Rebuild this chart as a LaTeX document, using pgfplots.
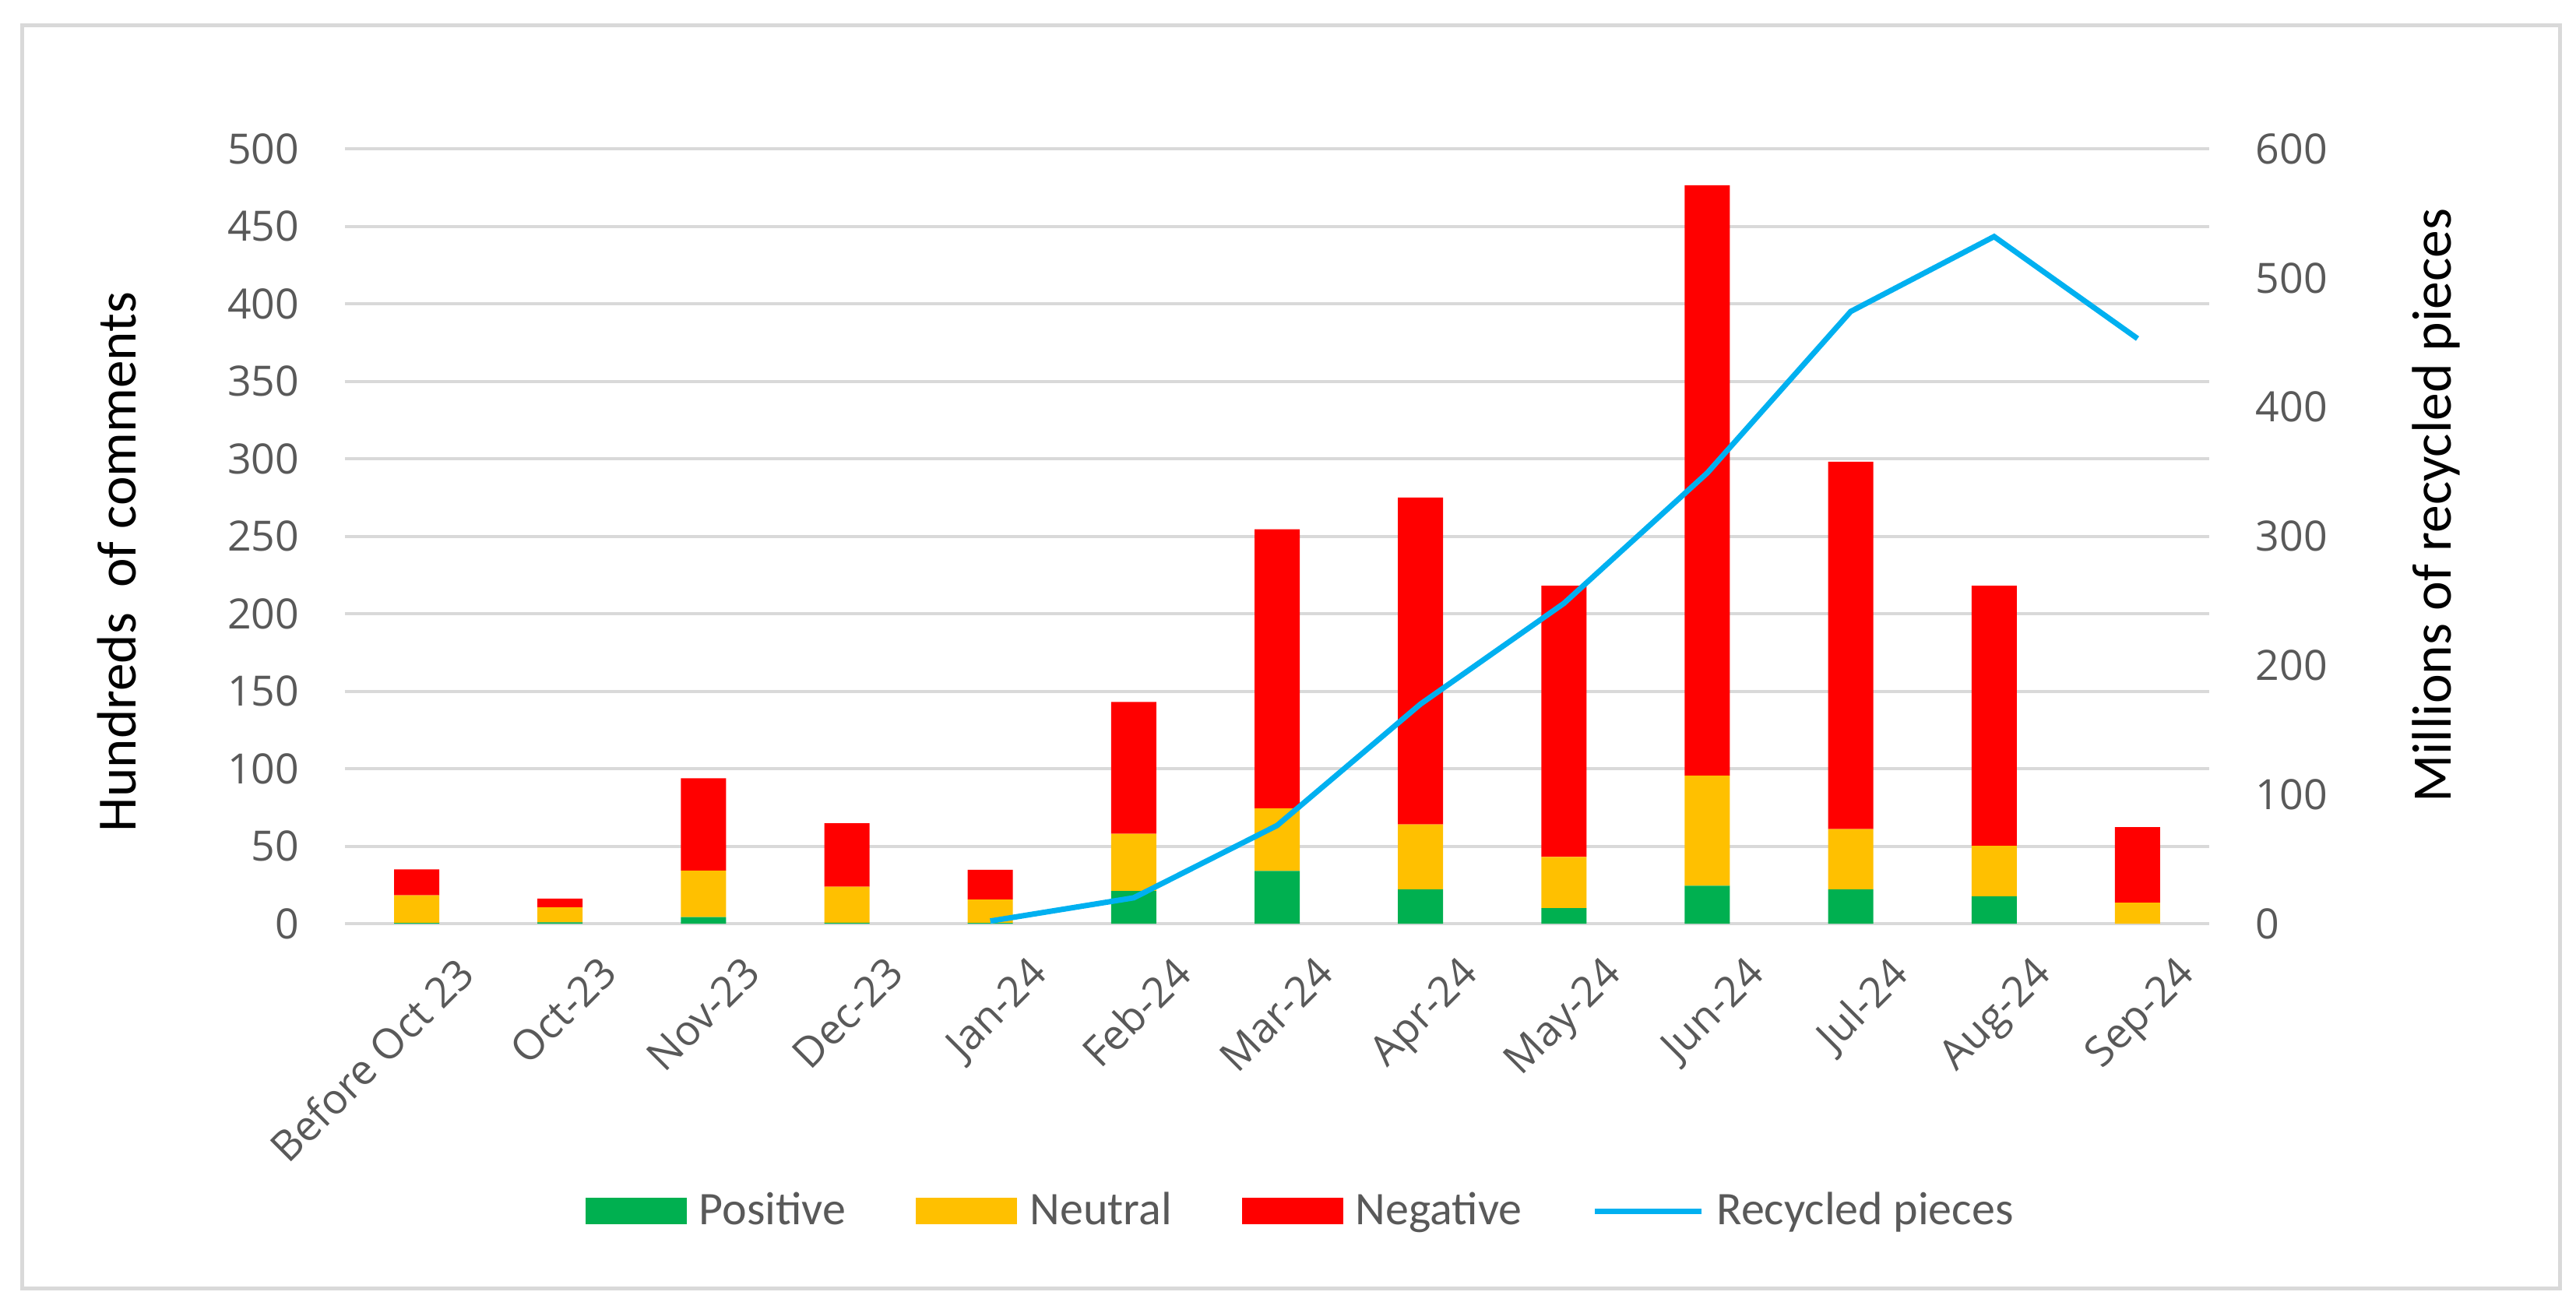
\documentclass[border=0pt]{standalone}
\usepackage{fontspec}
\setmainfont{Carlito}
\newfontfamily\tickfont{Open Sans}
\usepackage{pgfplots}
\usepackage{pgfplotstable}
\pgfplotsset{compat=1.18}

\definecolor{posgreen}{HTML}{00B050}
\definecolor{neuyellow}{HTML}{FFC000}
\definecolor{negred}{HTML}{FF0000}
\definecolor{recblue}{HTML}{00B0F0}
\definecolor{gridgray}{HTML}{D9D9D9}
\definecolor{textgray}{HTML}{595959}

% hundreds of comments, stacked
\pgfplotstableread{
idx pos neu neg
0  0.5  17.8 16.7
1  0.8  9.7  5.7
2  4.2  30.0 59.6
3  0.6  23.2 41.0
4  0.5  15.0 19.3
5  21.0 37.0 85.0
6  34.0 40.5 180.0
7  22.0 42.0 211.0
8  10.0 33.0 175.0
9  24.5 71.0 381.0
10 22.0 39.0 237.0
11 17.7 32.5 167.8
12 0.0  13.5 48.8
}\comments

% millions of recycled pieces
\pgfplotstableread{
idx pieces
4  2
5  20
6  76
7  170
8  248
9  349
10 474
11 532
12 453
}\recycled

\pgfplotsset{
  barlegend/.style={legend image code/.code={\fill[##1, draw=none] (0pt,-4.25pt) rectangle (32.5pt,4.25pt);}},
  linelegend/.style={legend image code/.code={\draw[##1] (0pt,0pt) -- (34.25pt,0pt);}},
  ticktext/.style={font=\tickfont\fontsize{13.4}{16}\selectfont, text=textgray},
}

\begin{document}
\begin{tikzpicture}
\useasboundingbox (-110.75pt,-124.75pt) rectangle (716.25pt,296.5pt);
\draw[gridgray, line width=1.25pt] (-103.5pt,-117pt) rectangle (711pt,288.5pt);

\begin{axis}[
  at={(0pt,0pt)}, anchor=south west,
  width=598.5pt, height=248.75pt, scale only axis,
  ybar stacked, bar width=14.5pt,
  xmin=-0.5, xmax=12.5, ymin=0, ymax=500,
  xtick={0,...,12},
  xticklabels={Before Oct 23,Oct-23,Nov-23,Dec-23,Jan-24,Feb-24,Mar-24,Apr-24,May-24,Jun-24,Jul-24,Aug-24,Sep-24},
  ytick={0,50,...,500},
  axis y line*=left, axis x line*=bottom,
  axis line style={draw=none}, tick style={draw=none},
  ymajorgrids, major grid style={gridgray, line width=1pt},
  /pgf/number format/assume math mode=true,
  yticklabel style={ticktext, inner sep=0pt, anchor=east, xshift=-14.5pt},
  xticklabel style={ticktext, inner sep=0pt, rotate=45, anchor=north east, xshift=1.75pt, yshift=-15.25pt},
  ylabel={Hundreds\ \ of comments},
  ylabel style={font=\fontsize{17.8}{20}\selectfont, at={(axis description cs:-0.1224,0.467)}, anchor=center},
]
\addplot[fill=posgreen, draw=none] table[x=idx, y=pos] {\comments};
\addplot[fill=neuyellow, draw=none] table[x=idx, y=neu] {\comments};
\addplot[fill=negred, draw=none] table[x=idx, y=neg] {\comments};
\end{axis}

\begin{axis}[
  at={(0pt,0pt)}, anchor=south west,
  width=598.5pt, height=248.75pt, scale only axis,
  xmin=-0.5, xmax=12.5, ymin=0, ymax=600,
  axis x line=none, axis y line*=right,
  axis line style={draw=none}, tick style={draw=none},
  ytick={0,100,...,600},
  /pgf/number format/assume math mode=true,
  yticklabel style={ticktext, inner sep=0pt, anchor=west, xshift=14.75pt},
  ylabel={Millions of recycled pieces},
  ylabel style={font=\fontsize{17.9}{20}\selectfont, at={(axis description cs:1.1216,0.5397)}, anchor=center},
  legend columns=4,
  legend style={at={(axis description cs:0.512,-0.3709)}, anchor=center, draw=none, fill=none,
    font=\fontsize{15}{18}\selectfont, text=textgray,
    nodes={inner sep=0pt, text=textgray},
    /tikz/every odd column/.append style={column sep=4pt},
    /tikz/every even column/.append style={column sep=22.5pt}},
]
\addlegendimage{barlegend, fill=posgreen}
\addlegendentry{Positive}
\addlegendimage{barlegend, fill=neuyellow}
\addlegendentry{Neutral}
\addlegendimage{barlegend, fill=negred}
\addlegendentry{Negative}
\addplot[recblue, line width=1.75pt, linelegend] table[x=idx, y=pieces] {\recycled};
\addlegendentry{Recycled pieces}
\end{axis}
\end{tikzpicture}
\end{document}
